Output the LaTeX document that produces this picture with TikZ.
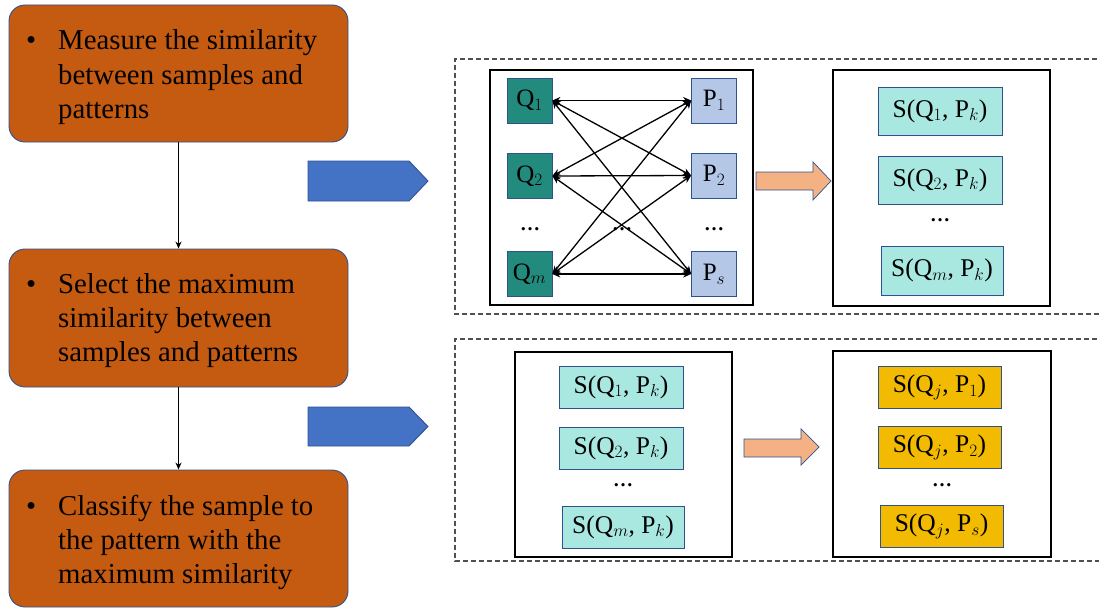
\documentclass[tikz,border=0pt]{standalone}
\usepackage{fontspec}
\setmainfont{Liberation Serif}
\usetikzlibrary{arrows.meta}
\definecolor{boxorange}{HTML}{C55A11}
\definecolor{navyline}{HTML}{2F528F}
\definecolor{qteal}{HTML}{238A7E}
\definecolor{plav}{HTML}{B4C7E7}
\definecolor{steal}{HTML}{A9E8E1}
\definecolor{ygold}{HTML}{F2BA00}
\definecolor{bluearrow}{HTML}{4472C4}
\definecolor{peach}{HTML}{F4B183}
\definecolor{dashgray}{HTML}{505050}
\begin{document}
\begin{tikzpicture}[x=1pt,y=-1pt,
  stepbox/.style={draw=navyline, fill=boxorange, rounded corners=16pt, line width=0.9pt,
    minimum width=339pt, inner sep=0pt},
  steptext/.style={inner sep=0pt, font=\fontsize{28.8}{34.3}\selectfont},
  panelbox/.style={draw=black, line width=1.5pt, inner sep=0pt},
  dashbox/.style={draw=dashgray, dash pattern=on 5pt off 3pt, line width=1.2pt},
  qbox/.style={draw=navyline, fill=qteal, line width=0.7pt, minimum width=45pt, minimum height=45pt,
    inner sep=0pt, font=\fontsize{25}{30}\selectfont},
  pbox/.style={qbox, fill=plav},
  sbox/.style={draw=navyline, fill=steal, line width=0.9pt, minimum width=124pt, minimum height=48pt,
    inner sep=0pt, font=\fontsize{25.5}{30}\selectfont},
  ybox/.style={sbox, fill=ygold},
  dotstext/.style={inner sep=0pt, font=\fontsize{20}{24}\selectfont\bfseries},
  link/.style={{Stealth[length=8pt,width=7pt]}-{Stealth[length=8pt,width=7pt]}, line width=1.3pt},
  flow/.style={-{Stealth[length=7pt,width=6pt]}, line width=1.4pt},
  bigblue/.style={draw=navyline, fill=bluearrow, line width=0.9pt},
  bigpeach/.style={draw=navyline, fill=peach, line width=0.7pt}
]
\useasboundingbox (0,0) rectangle (1099,610);

% left step boxes
\node[stepbox, minimum height=137pt] (b1) at (178.5,73.5) {};
\node[stepbox, minimum height=138pt] (b2) at (178.5,318) {};
\node[stepbox, minimum height=137pt] (b3) at (178.5,538.5) {};
\node[steptext, anchor=base west] (t1) at (26,50)
  {\begin{tabular}[t]{@{}p{32pt}@{}l@{}}\textbullet & Measure the similarity\\ & between samples and\\ & patterns\end{tabular}};
\node[steptext, anchor=base west] (t2) at (26,293)
  {\begin{tabular}[t]{@{}p{32pt}@{}l@{}}\textbullet & Select the maximum\\ & similarity between\\ & samples and patterns\end{tabular}};
\node[steptext, anchor=base west] (t3) at (26,515)
  {\begin{tabular}[t]{@{}p{32pt}@{}l@{}}\textbullet & Classify the sample to\\ & the pattern with the\\ & maximum similarity\end{tabular}};
\draw[flow] (b1) -- (b2);
\draw[flow] (b2) -- (b3);

% blue arrows
\draw[bigblue] (308,161) -- (409,161) -- (428,181) -- (409,201) -- (308,201) -- cycle;
\draw[bigblue] (308,407) -- (409,407) -- (428,426.5) -- (409,446) -- (308,446) -- cycle;

% dashed panels
\draw[dashbox] (1105,59) -- (455,59) -- (455,314) -- (1105,314);
\draw[dashbox] (1105,339) -- (455,339) -- (455,561) -- (1105,561);

% top panel
\node[panelbox, minimum width=263pt, minimum height=235pt] (f1) at (621.5,187.5) {};
\node[panelbox, minimum width=217pt, minimum height=236pt] (f2) at (941.5,188) {};

\node[qbox] (q1) at (529.5,100.5) {Q$_1$};
\node[qbox] (q2) at (529.5,176) {Q$_2$};
\node[qbox] (qm) at (529.5,274) {Q$_m$};
\node[pbox] (p1) at (714,100.5) {P$_1$};
\node[pbox] (p2) at (714,175.5) {P$_2$};
\node[pbox] (ps) at (714,274) {P$_s$};
\foreach \q in {q1,q2,qm}
  \foreach \p in {p1,p2,ps}
    \draw[link] (\q.east) -- (\p.west);
\node[dotstext] (qd) at (530,229) {…};
\node[dotstext] (md) at (622,229) {…};
\node[dotstext] (pd) at (714,229) {…};

\draw[bigpeach] (756,172) -- (813,172) -- (813,162) -- (831,181) -- (813,200) -- (813,190) -- (756,190) -- cycle;

\node[sbox] (s1) at (940,111) {S(Q$_1$, P$_k$)};
\node[sbox] (s2) at (940,180) {S(Q$_2$, P$_k$)};
\node[dotstext] (sd) at (940,220) {…};
\node[sbox, minimum width=122pt, minimum height=49pt] (sm) at (942,270.5) {S(Q$_m$, P$_k$)};

% bottom panel
\node[panelbox, minimum width=217pt, minimum height=205pt] (f3) at (623.5,454.5) {};
\node[panelbox, minimum width=218pt, minimum height=206pt] (f4) at (942,454) {};

\node[sbox, minimum height=42pt] (u1) at (621,387) {S(Q$_1$, P$_k$)};
\node[sbox, minimum height=42pt] (u2) at (621,448) {S(Q$_2$, P$_k$)};
\node[dotstext] (ud) at (623,485) {…};
\node[sbox, minimum width=122pt, minimum height=42pt] (um) at (623,527) {S(Q$_m$, P$_k$)};

\draw[bigpeach] (744,439) -- (801,439) -- (801,429) -- (819,447) -- (801,465) -- (801,457) -- (744,457) -- cycle;

\node[ybox, minimum width=123pt, minimum height=42pt] (y1) at (939.5,387) {S(Q$_j$, P$_1$)};
\node[ybox, minimum width=123pt, minimum height=42pt] (y2) at (939.5,447) {S(Q$_j$, P$_2$)};
\node[dotstext] (yd) at (942,485) {…};
\node[ybox, minimum width=123pt, minimum height=42pt] (ys) at (941.5,526) {S(Q$_j$, P$_s$)};
\end{tikzpicture}
\end{document}
